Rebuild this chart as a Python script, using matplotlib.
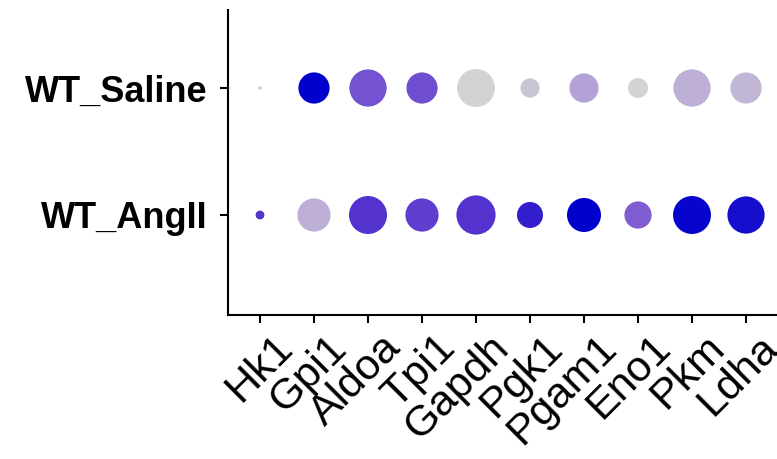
import matplotlib
matplotlib.use("Agg")
import matplotlib.pyplot as plt
from matplotlib.colors import LinearSegmentedColormap
import numpy as np

genes = ['Hk1', 'Gpi1', 'Aldoa', 'Tpi1', 'Gapdh', 'Pgk1', 'Pgam1', 'Eno1', 'Pkm', 'Ldha']
groups = ['WT_AngII', 'WT_Saline']

# percent expressed (dot size)
pct_saline = [9, 78, 93, 78, 95, 48, 73, 50, 93, 78]
pct_angii = [22, 83, 95, 83, 98, 65, 85, 68, 95, 93]

# scaled average expression (dot colour, 0..1)
exp_saline = [0.08, 1.0, 0.6, 0.62, 0.0, 0.1, 0.3, 0.0, 0.25, 0.2]
exp_angii = [0.75, 0.25, 0.75, 0.7, 0.75, 0.85, 1.0, 0.55, 0.98, 0.93]

cmap = LinearSegmentedColormap.from_list(
    'grey_blue',
    [(0.0, '#D3D3D3'), (0.25, '#BDAFD5'), (0.55, '#7F5CD2'),
     (0.75, '#5533CE'), (1.0, '#0000CD')])

plt.rcParams['font.family'] = ['Liberation Sans', 'DejaVu Sans']

fig = plt.figure(figsize=(7.77, 4.59), dpi=100)
ax = fig.add_axes([228 / 777, 1 - 315 / 459, 1 - 228 / 777, (315 - 10) / 459])

x = np.arange(1, len(genes) + 1)
pct = np.array([pct_angii, pct_saline], dtype=float)
exp = np.array([exp_angii, exp_saline], dtype=float)

# diameter in px proportional to pct (100% -> 40 px)
diam_pt = pct / 100 * 40 * 72 / 100
for row in range(2):
    ax.scatter(x, np.full(len(genes), row + 1), s=diam_pt[row] ** 2,
               c=exp[row], cmap=cmap, vmin=0, vmax=1, linewidths=0)

ax.set_xlim(1 - 32 / 54, 10 + 31 / 54)
ax.set_ylim(1 - 100 / 127, 2 + 78 / 127)
ax.set_xticks(x)
ax.set_xticklabels([])
ax.set_yticks([1, 2])
ax.set_yticklabels(groups, fontsize=26, fontweight='bold')

# rotated gene labels, placed like ggplot's angle=45, hjust=1, vjust=1
for xi, g in zip(x, genes):
    ax.annotate(g, xy=(xi, 0), xycoords=ax.get_xaxis_transform(),
                xytext=(9, -9), textcoords='offset points',
                rotation=45, ha='right', va='top', rotation_mode='anchor',
                fontsize=31, annotation_clip=False)

for side in ['top', 'right']:
    ax.spines[side].set_visible(False)
for side in ['left', 'bottom']:
    ax.spines[side].set_linewidth(1.5)
ax.tick_params(width=1.5, length=6, color='black')
ax.tick_params(axis='y', pad=9)

fig.savefig('out.png', dpi=100)
